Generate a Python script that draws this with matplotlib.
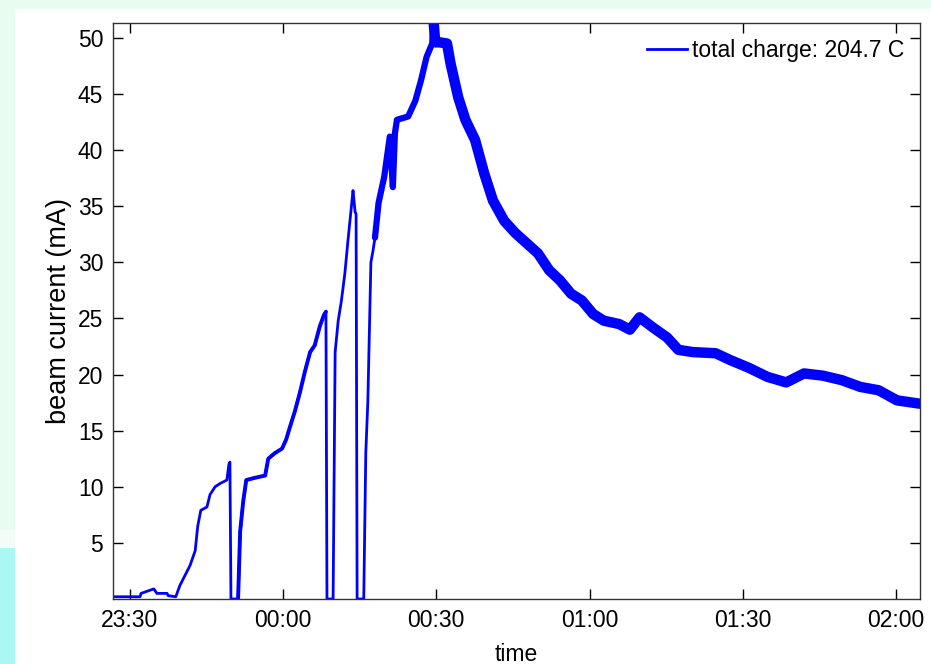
#!/usr/bin/env python3
##
# Beam current during the fill, with total charge in the legend
##

import numpy as np
import matplotlib
matplotlib.use("Agg")
import matplotlib.pyplot as plt

# minutes after 23:30, beam current in mA
t_min = [-3.29, 2.0, 2.2, 4.7, 5.3, 7.3, 7.5, 9.0, 9.8, 10.8, 11.8, 12.8, 13.3, 13.9,
         15.1, 15.7, 16.7, 17.7, 19.0, 19.4, 19.6, 19.8, 21.2, 21.6, 22.2, 22.8,
         24.5, 26.5, 27.1, 28.4, 29.8, 30.6, 31.4, 32.3, 33.3, 34.3, 35.3, 36.2,
         37.2, 38.0, 38.4, 38.6, 39.8, 40.2, 40.8, 41.4, 42.1, 42.7, 43.1, 43.5,
         43.7, 44.1, 44.3, 44.5, 45.8, 46.2, 46.6, 47.2, 47.6,
         48.0, 48.7, 49.8, 50.9, 51.5, 51.9, 52.3, 54.5, 55.9, 57.0, 58.1, 59.2,
         59.5, 59.8, 60.7, 62.1, 62.8, 64.3, 65.7, 67.6, 69.4, 71.1, 73.3, 75.5,
         77.7, 79.9, 82.1, 84.2, 86.4, 88.5, 90.7, 92.8, 95.8, 97.9, 99.8, 102.4,
         105.2, 107.4, 110.3, 114.7, 117.5, 121.2, 124.8, 128.5, 132.0, 135.7,
         139.4, 143.0, 146.6, 150.2, 154.7]
current = [0.2, 0.2, 0.5, 0.9, 0.5, 0.5, 0.3, 0.2, 1.2, 2.1, 3.0, 4.3, 6.5, 7.9,
           8.2, 9.3, 10.0, 10.3, 10.6, 12.0, 12.2, 0.0, 0.0, 6.0, 8.7, 10.6,
           10.8, 11.0, 12.5, 13.0, 13.4, 14.2, 15.4, 16.7, 18.4, 20.3, 22.0, 22.6,
           24.3, 25.3, 25.6, 0.0, 0.0, 22.0, 24.8, 26.5, 29.0, 31.9, 33.7, 35.5,
           36.4, 34.5, 34.3, 0.0, 0.0, 13.0, 17.6, 30.0, 31.0,
           32.2, 35.3, 37.6, 41.2, 36.7, 41.5, 42.7, 43.0, 44.4, 46.2, 48.3, 49.5,
           51.3, 49.6, 49.6, 49.5, 47.7, 44.7, 42.7, 40.9, 37.9, 35.5, 33.7, 32.6,
           31.7, 30.8, 29.3, 28.4, 27.2, 26.6, 25.4, 24.8, 24.5, 24.0, 25.1, 24.2,
           23.3, 22.2, 22.0, 21.9, 21.3, 20.6, 19.8, 19.3, 20.1, 19.9,
           19.5, 18.9, 18.6, 17.7, 17.4]

tick_min = [0, 30, 60, 90, 120, 150]
tick_labels = ["23:30", "00:00", "00:30", "01:00", "01:30", "02:00"]
total_charge = 204.7

plt.rcParams['font.family'] = ['Liberation Sans', 'DejaVu Sans']

W, H = 931, 664
fig = plt.figure(figsize=(W / 100, H / 100), dpi=100)

# slide-like background: mint strip on top/left, turning cyan lower left
bg = np.ones((H, W, 3))
mint = np.array([0.91, 0.99, 0.94])
cyan = np.array([0.67, 0.97, 0.96])
bg[:9, :, :] = mint
bg[:, :15, :] = mint
bg[548:, :15, :] = cyan
bg[530:548, :15, :] = [0.95, 0.99, 0.98]
bax = fig.add_axes([0, 0, 1, 1], zorder=-1)
bax.imshow(bg, aspect='auto', interpolation='nearest')
bax.axis('off')

ax = fig.add_axes([113 / W, 1 - 599 / H, (920 - 113) / W, (599 - 23.3) / H])

t = np.array(t_min)
i = np.array(current)
blue = '#0000ff'
ax.plot(t, i, color=blue, lw=2, label='total charge: %.1f C' % total_charge)
# noisy stretches come out as a wide band
rise = (t >= 20) & (t <= 38.5)
ax.plot(t[rise], i[rise], color=blue, lw=2.8, solid_capstyle='round')
top = (t >= 48.0) & (t <= 59.8)
ax.plot(t[top], i[top], color=blue, lw=4.5, solid_capstyle='round')
late = t >= 59.5
ax.plot(t[late], i[late], color=blue, lw=7.5, solid_capstyle='round')

ax.set_xlim(-3.29, 154.7)
ax.set_ylim(0, 51.3)
ax.set_xticks(tick_min)
ax.set_xticklabels(tick_labels)
ax.set_yticks(range(5, 51, 5))
ax.tick_params(direction='in', length=7, width=1, top=True, right=True,
               labelsize=16.5, pad=7)
for s in ax.spines.values():
    s.set_linewidth(1)
    s.set_color('#333333')

ax.set_xlabel('time', fontsize=16.5, labelpad=8)
ax.set_ylabel('beam current (mA)', fontsize=19.5, labelpad=4)

ax.legend(loc='upper right', frameon=False, fontsize=16.5, handlelength=1.75,
          handletextpad=0.2, borderaxespad=0.3)

fig.savefig('out.png', dpi=100)
